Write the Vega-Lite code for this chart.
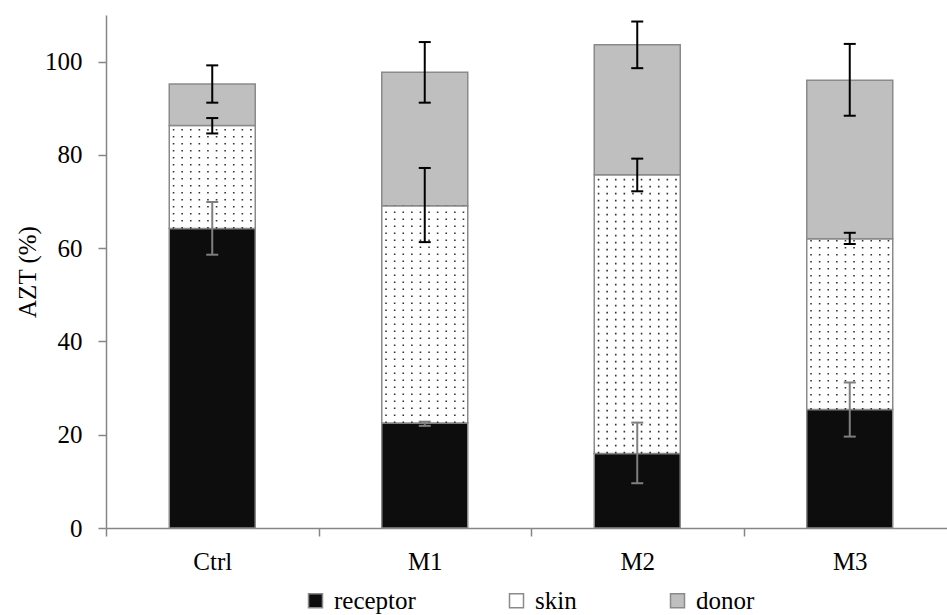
{
  "$schema": "https://vega.github.io/schema/vega-lite/v6.json",
  "width": 841,
  "height": 513,
  "autosize": {"type": "none"},
  "padding": {"left": 106, "top": 15, "right": 0, "bottom": 87},
  "background": "white",
  "config": {
    "font": "Liberation Serif",
    "view": {"stroke": null},
    "axis": {
      "grid": false,
      "domainColor": "#868686",
      "domainWidth": 1.5,
      "tickColor": "#868686",
      "tickWidth": 1.5,
      "tickSize": 8,
      "labelColor": "#000000",
      "titleFontWeight": "normal",
      "titleColor": "#000000"
    }
  },
  "data": {
    "values": [
      {"group": "Ctrl", "seg": "receptor", "k": 1, "value": 64.2, "lo": 58.6, "hi": 69.9},
      {"group": "Ctrl", "seg": "skin", "k": 2, "value": 22.1, "lo": 84.6, "hi": 87.9},
      {"group": "Ctrl", "seg": "donor", "k": 3, "value": 8.9, "lo": 91.2, "hi": 99.2},
      {"group": "M1", "seg": "receptor", "k": 1, "value": 22.5, "lo": 21.9, "hi": 22.8},
      {"group": "M1", "seg": "skin", "k": 2, "value": 46.6, "lo": 61.3, "hi": 77.2},
      {"group": "M1", "seg": "donor", "k": 3, "value": 28.6, "lo": 91.2, "hi": 104.2},
      {"group": "M2", "seg": "receptor", "k": 1, "value": 16.0, "lo": 9.6, "hi": 22.6},
      {"group": "M2", "seg": "skin", "k": 2, "value": 59.75, "lo": 72.2, "hi": 79.2},
      {"group": "M2", "seg": "donor", "k": 3, "value": 27.85, "lo": 98.6, "hi": 108.6},
      {"group": "M3", "seg": "receptor", "k": 1, "value": 25.4, "lo": 19.6, "hi": 31.2},
      {"group": "M3", "seg": "skin", "k": 2, "value": 36.6, "lo": 60.9, "hi": 63.3},
      {"group": "M3", "seg": "donor", "k": 3, "value": 34.0, "lo": 88.4, "hi": 103.8}
    ]
  },
  "transform": [
    {"stack": "value", "groupby": ["group"], "sort": [{"field": "k", "order": "ascending"}], "as": ["y0", "y1"]}
  ],
  "encoding": {
    "x": {
      "field": "group",
      "type": "nominal",
      "sort": ["Ctrl", "M1", "M2", "M3"],
      "scale": {"range": [0, 850], "paddingInner": 0, "paddingOuter": 0},
      "axis": {"title": null, "labelAngle": 0, "tickBand": "extent", "labelPadding": 13, "labelFont": "Liberation Serif", "labelFontSize": 25}
    }
  },
  "layer": [
    {
      "mark": {"type": "bar", "size": 86, "stroke": "#8a8a8a", "strokeWidth": 1.5},
      "encoding": {
        "y": {
          "field": "y1",
          "type": "quantitative",
          "scale": {"domain": [0, 110], "nice": false},
          "axis": {"values": [0, 20, 40, 60, 80, 100], "title": "AZT (%)", "labelPadding": 16, "titlePadding": 4, "labelFont": "Liberation Serif", "labelFontSize": 25, "titleFont": "Liberation Serif", "titleFontSize": 25}
        },
        "y2": {"field": "y0"},
        "color": {
          "field": "seg",
          "type": "nominal",
          "scale": {"domain": ["receptor", "skin", "donor"], "range": ["#0d0d0d", "#ffffff", "#bfbfbf"]},
          "legend": {
            "title": null,
            "orient": "none",
            "legendX": 197,
            "legendY": 573,
            "direction": "horizontal",
            "symbolType": "square",
            "symbolSize": 196,
            "symbolStrokeColor": "#8a8a8a",
            "symbolStrokeWidth": 1.5,
            "symbolOpacity": 1,
            "labelFont": "Liberation Serif",
            "labelFontSize": 25,
            "labelColor": "#000000",
            "labelOffset": 6,
            "columnPadding": 88
          }
        }
      }
    },
    {"transform": [{"filter": "datum.seg === 'skin'"}], "mark": {"type": "rule", "xOffset": -38.7, "strokeDash": [1.6, 5.4], "strokeWidth": 1.6, "color": "#333333"}, "encoding": {"y": {"field": "y0", "type": "quantitative"}, "y2": {"field": "y1"}}},
    {"transform": [{"filter": "datum.seg === 'skin'"}], "mark": {"type": "rule", "xOffset": -30.1, "strokeDash": [1.6, 5.4], "strokeWidth": 1.6, "color": "#333333"}, "encoding": {"y": {"field": "y0", "type": "quantitative"}, "y2": {"field": "y1"}}},
    {"transform": [{"filter": "datum.seg === 'skin'"}], "mark": {"type": "rule", "xOffset": -21.5, "strokeDash": [1.6, 5.4], "strokeWidth": 1.6, "color": "#333333"}, "encoding": {"y": {"field": "y0", "type": "quantitative"}, "y2": {"field": "y1"}}},
    {"transform": [{"filter": "datum.seg === 'skin'"}], "mark": {"type": "rule", "xOffset": -12.9, "strokeDash": [1.6, 5.4], "strokeWidth": 1.6, "color": "#333333"}, "encoding": {"y": {"field": "y0", "type": "quantitative"}, "y2": {"field": "y1"}}},
    {"transform": [{"filter": "datum.seg === 'skin'"}], "mark": {"type": "rule", "xOffset": -4.3, "strokeDash": [1.6, 5.4], "strokeWidth": 1.6, "color": "#333333"}, "encoding": {"y": {"field": "y0", "type": "quantitative"}, "y2": {"field": "y1"}}},
    {"transform": [{"filter": "datum.seg === 'skin'"}], "mark": {"type": "rule", "xOffset": 4.3, "strokeDash": [1.6, 5.4], "strokeWidth": 1.6, "color": "#333333"}, "encoding": {"y": {"field": "y0", "type": "quantitative"}, "y2": {"field": "y1"}}},
    {"transform": [{"filter": "datum.seg === 'skin'"}], "mark": {"type": "rule", "xOffset": 12.9, "strokeDash": [1.6, 5.4], "strokeWidth": 1.6, "color": "#333333"}, "encoding": {"y": {"field": "y0", "type": "quantitative"}, "y2": {"field": "y1"}}},
    {"transform": [{"filter": "datum.seg === 'skin'"}], "mark": {"type": "rule", "xOffset": 21.5, "strokeDash": [1.6, 5.4], "strokeWidth": 1.6, "color": "#333333"}, "encoding": {"y": {"field": "y0", "type": "quantitative"}, "y2": {"field": "y1"}}},
    {"transform": [{"filter": "datum.seg === 'skin'"}], "mark": {"type": "rule", "xOffset": 30.1, "strokeDash": [1.6, 5.4], "strokeWidth": 1.6, "color": "#333333"}, "encoding": {"y": {"field": "y0", "type": "quantitative"}, "y2": {"field": "y1"}}},
    {"transform": [{"filter": "datum.seg === 'skin'"}], "mark": {"type": "rule", "xOffset": 38.7, "strokeDash": [1.6, 5.4], "strokeWidth": 1.6, "color": "#333333"}, "encoding": {"y": {"field": "y0", "type": "quantitative"}, "y2": {"field": "y1"}}},
    {
      "mark": {"type": "rule", "strokeWidth": 2},
      "encoding": {
        "y": {"field": "lo", "type": "quantitative"},
        "y2": {"field": "hi"},
        "color": {"condition": {"test": "datum.seg === 'receptor'", "value": "#7f7f7f"}, "value": "#000000"}
      }
    },
    {
      "mark": {"type": "tick", "orient": "horizontal", "size": 12, "thickness": 2},
      "encoding": {
        "y": {"field": "lo", "type": "quantitative"},
        "color": {"condition": {"test": "datum.seg === 'receptor'", "value": "#7f7f7f"}, "value": "#000000"},
        "opacity": {"value": 1}
      }
    },
    {
      "mark": {"type": "tick", "orient": "horizontal", "size": 12, "thickness": 2},
      "encoding": {
        "y": {"field": "hi", "type": "quantitative"},
        "color": {"condition": {"test": "datum.seg === 'receptor'", "value": "#7f7f7f"}, "value": "#000000"},
        "opacity": {"value": 1}
      }
    }
  ]
}
